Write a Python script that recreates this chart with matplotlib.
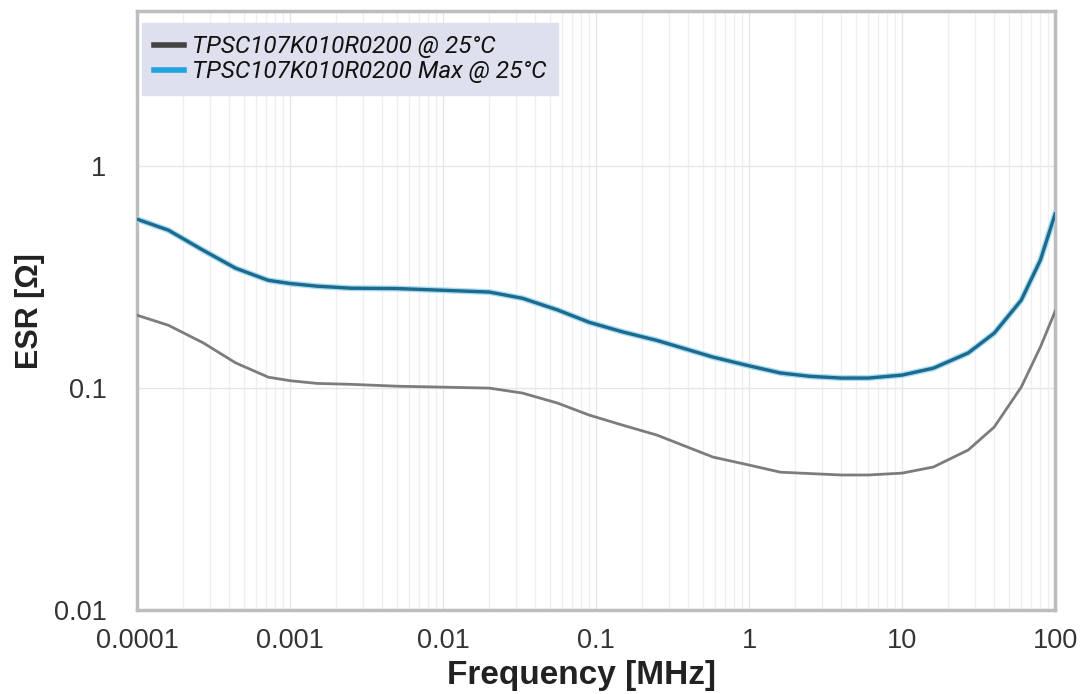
import numpy as np
import matplotlib
matplotlib.use("Agg")
from matplotlib import pyplot as plt
from matplotlib.ticker import FixedLocator, FixedFormatter, LogLocator, NullFormatter

# frequency [MHz] and ESR [ohm]
freq = [1e-4, 1.6e-4, 2.7e-4, 4.4e-4, 7.2e-4, 1e-3, 1.5e-3, 2.5e-3, 5e-3, 1e-2,
        2e-2, 3.3e-2, 5.6e-2, 9e-2, 0.15, 0.25, 0.58, 1.0, 1.6, 2.5, 4, 6, 10,
        16, 27, 40, 60, 80, 100]
esr_typ = [0.213, 0.192, 0.160, 0.130, 0.112, 0.108, 0.105, 0.104, 0.102, 0.101,
           0.100, 0.095, 0.0856, 0.0756, 0.068, 0.0614, 0.0489, 0.045, 0.0418,
           0.0412, 0.0406, 0.0406, 0.0414, 0.0441, 0.0526, 0.0668, 0.101, 0.153,
           0.222]
esr_max = [0.577, 0.515, 0.418, 0.347, 0.306, 0.296, 0.288, 0.282, 0.281, 0.276,
           0.271, 0.254, 0.225, 0.198, 0.179, 0.164, 0.138, 0.126, 0.117, 0.113,
           0.111, 0.111, 0.1145, 0.123, 0.144, 0.177, 0.249, 0.377, 0.61]

x_ticks = [1e-4, 1e-3, 1e-2, 1e-1, 1, 10, 100]
x_labels = ["0.0001", "0.001", "0.01", "0.1", "1", "10", "100"]
y_ticks = [0.01, 0.1, 1]
y_labels = ["0.01", "0.1", "1"]

plt.rcParams['font.family'] = ['Liberation Sans', 'DejaVu Sans']

fig = plt.figure(figsize=(10.8, 6.94), dpi=100)
ax = fig.add_axes([0.127, 0.121, 0.850, 0.863])

ax.plot(freq, esr_typ, color='#7c7c7c', lw=2.0, zorder=3)
ax.plot(freq, esr_max, color='#a6dcf2', lw=4.3, zorder=3)
ax.plot(freq, esr_max, color='#1d6a8e', lw=2.4, zorder=4)

ax.set_xscale('log')
ax.set_yscale('log')
ax.set_xlim(1e-4, 100)
ax.set_ylim(0.01, 5)

ax.xaxis.set_major_locator(FixedLocator(x_ticks))
ax.xaxis.set_major_formatter(FixedFormatter(x_labels))
ax.xaxis.set_minor_locator(LogLocator(base=10, subs=np.arange(2, 10)))
ax.xaxis.set_minor_formatter(NullFormatter())
ax.yaxis.set_major_locator(FixedLocator(y_ticks))
ax.yaxis.set_major_formatter(FixedFormatter(y_labels))
ax.yaxis.set_minor_locator(FixedLocator([]))

ax.grid(which='major', axis='both', color='#e6e6e6', lw=1.0)
ax.grid(which='minor', axis='x', color='#efefef', lw=0.9)
ax.set_axisbelow(True)

ax.tick_params(axis='both', which='both', length=0, labelsize=19.5, colors='#333333')
ax.tick_params(axis='x', pad=13)
ax.tick_params(axis='y', pad=22)

for sp in ax.spines.values():
    sp.set_color('#bdbdbd')
    sp.set_linewidth(2.5)

ax.set_xlabel('Frequency [MHz]', fontsize=24, fontweight='bold', color='#222222', labelpad=1)
ax.xaxis.set_label_coords(0.484, -0.083)
ax.set_ylabel('ESR [Ω]', fontsize=22, fontweight='bold', color='#222222', labelpad=6)

handles = [plt.Line2D([], [], color='#444444', lw=4),
           plt.Line2D([], [], color='#1ea3dc', lw=4)]
leg = ax.legend(handles, ['TPSC107K010R0200 @ 25°C', 'TPSC107K010R0200 Max @ 25°C'],
                loc='upper left', bbox_to_anchor=(0.005, 0.98), borderaxespad=0,
                frameon=True, fancybox=False, framealpha=1, facecolor='#dee1ed',
                edgecolor='#dee1ed', handlelength=1.25, handletextpad=0.3,
                labelspacing=0.08, borderpad=0.5,
                prop={'family': ['Roboto', 'DejaVu Sans'], 'style': 'italic', 'size': 17.5})
for t in leg.get_texts():
    t.set_color('#111111')

fig.savefig('out.png', dpi=100)
